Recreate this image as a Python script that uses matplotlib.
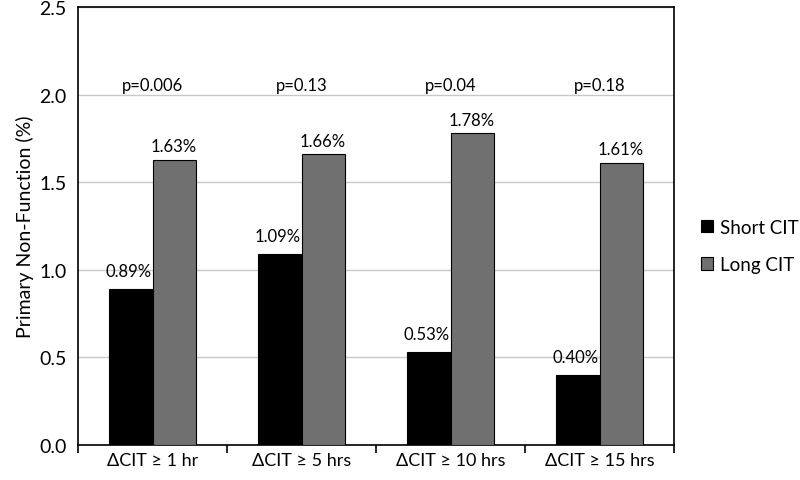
import numpy as np
import matplotlib.pyplot as plt

categories = ["ΔCIT ≥ 1 hr", "ΔCIT ≥ 5 hrs", "ΔCIT ≥ 10 hrs", "ΔCIT ≥ 15 hrs"]
short_cit = [0.89, 1.09, 0.53, 0.40]
long_cit = [1.63, 1.66, 1.78, 1.61]
p_values = ["p=0.006", "p=0.13", "p=0.04", "p=0.18"]

plt.rcParams["font.family"] = ["Lato", "DejaVu Sans"]

fig = plt.figure(figsize=(8, 4.81), dpi=100)
ax = fig.add_axes([0.0975, 0.0728, 0.745, 0.9096])

x = np.arange(len(categories))
w = 0.29
ax.bar(x - w / 2, short_cit, w, color="black", edgecolor="black", linewidth=0.8,
       label="Short CIT", zorder=3)
ax.bar(x + w / 2, long_cit, w, color="#707070", edgecolor="black", linewidth=0.8,
       label="Long CIT", zorder=3)

# value labels
for i in range(len(categories)):
    ax.text(x[i] - w / 2 - 0.015, short_cit[i] + 0.075, f"{short_cit[i]:.2f}%",
            ha="center", va="baseline", fontsize=12)
    ax.text(x[i] + w / 2, long_cit[i] + 0.05, f"{long_cit[i]:.2f}%",
            ha="center", va="baseline", fontsize=12)
    ax.text(x[i], 2.03, p_values[i], ha="center", va="baseline", fontsize=12)

ax.set_xlim(-0.5, len(categories) - 0.5)
ax.set_ylim(0, 2.5)
yt = np.arange(0, 2.51, 0.5)
ax.set_yticks(yt)
ax.set_yticklabels([f"{v:.1f}" for v in yt], fontsize=14)
ax.tick_params(axis="y", length=0, pad=8)
ax.yaxis.grid(True, color="#c8c8c8", linewidth=1, zorder=0)

ax.set_xticks(x)
ax.set_xticklabels(categories, fontsize=13)
ax.tick_params(axis="x", length=0, pad=5)
ax.set_xticks(np.arange(-0.5, len(categories), 1), minor=True)
ax.tick_params(axis="x", which="minor", length=6, direction="out", width=1.2)

for s in ax.spines.values():
    s.set_linewidth(1.2)
    s.set_color("black")

ax.set_ylabel("Primary Non-Function (%)", fontsize=14, labelpad=4)

ax.legend(loc="center left", bbox_to_anchor=(1.045, 0.455), frameon=False,
          fontsize=13.5, handlelength=0.65, handleheight=0.65, handletextpad=0.35,
          labelspacing=1.1, borderaxespad=0, borderpad=0)

fig.savefig("out.png", dpi=100)
